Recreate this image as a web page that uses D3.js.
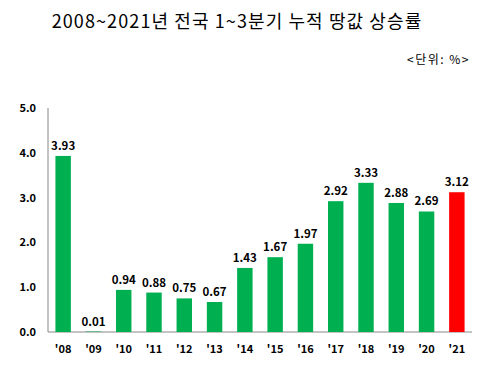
<!DOCTYPE html>
<html><head><meta charset="utf-8">
<script src="https://cdn.jsdelivr.net/npm/d3@7"></script>
<style>body{margin:0;background:#fff}</style></head>
<body><svg id="c" width="486" height="366"></svg>
<script>
const categories = ["'08","'09","'10","'11","'12","'13","'14","'15","'16","'17","'18","'19","'20","'21"];
const values = [3.93,0.01,0.94,0.88,0.75,0.67,1.43,1.67,1.97,2.92,3.33,2.88,2.69,3.12];
const yTicks = [0,1,2,3,4,5];
const title = "2008~2021년 전국 1~3분기 누적 땅값 상승률";
const unit = "<단위: %>";

const svg = d3.select("#c");
const x = d3.scaleBand().domain(categories).range([48,472]).paddingInner(0.49).paddingOuter(0.245);
const y = d3.scaleLinear().domain([0,5]).range([332,108]);
const font = "'Noto Sans CJK KR', 'Open Sans', sans-serif";

svg.append("text").attr("x",237).attr("y",28).attr("text-anchor","middle")
  .attr("font-family",font).attr("font-size",18).attr("letter-spacing",1.1).attr("fill","#000").text(title);
svg.append("text").attr("x",470).attr("y",64).attr("text-anchor","end")
  .attr("font-family",font).attr("font-size",12).attr("letter-spacing",1.5).attr("fill","#000").text(unit);

svg.append("line").attr("x1",48).attr("x2",48).attr("y1",y(5)).attr("y2",y(0)).attr("stroke","#888");
svg.append("line").attr("x1",48).attr("x2",472).attr("y1",y(0)).attr("y2",y(0)).attr("stroke","#888");

svg.selectAll(".yt").data(yTicks).join("text").attr("x",36).attr("y",d=>y(d)+4)
  .attr("text-anchor","end").attr("font-family",font).attr("font-weight","bold")
  .attr("font-size",11).text(d=>d.toFixed(1));

svg.selectAll(".bar").data(values).join("rect")
  .attr("x",(d,i)=>x(categories[i])).attr("width",x.bandwidth())
  .attr("y",d=>y(d)).attr("height",d=>y(0)-y(d))
  .attr("fill",(d,i)=>i===values.length-1?"#ff0000":"#00b050");

svg.selectAll(".vl").data(values).join("text")
  .attr("x",(d,i)=>x(categories[i])+x.bandwidth()/2).attr("y",d=>y(d)-6)
  .attr("text-anchor","middle").attr("font-family",font).attr("font-weight","bold")
  .attr("font-size",11.5).text(d=>d.toFixed(2));

svg.selectAll(".xl").data(categories).join("text")
  .attr("x",d=>x(d)+x.bandwidth()/2).attr("y",353)
  .attr("text-anchor","middle").attr("font-family",font).attr("font-weight","bold")
  .attr("font-size",11).text(d=>d);
</script></body></html>
